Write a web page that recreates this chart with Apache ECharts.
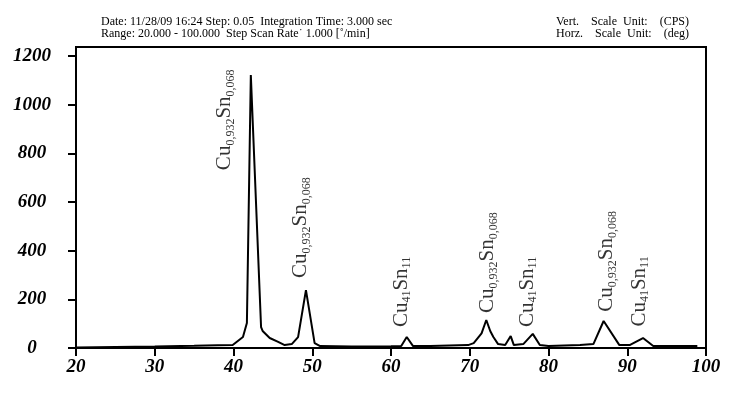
<!DOCTYPE html>
<html>
<head>
<meta charset="utf-8">
<title>XRD Cu-Sn</title>
<script src="https://cdn.jsdelivr.net/npm/echarts@6/dist/echarts.min.js"></script>
<style>
html, body { margin: 0; background: #fff; }
#chart { width: 735px; height: 393px; }
</style>
</head>
<body>
<div id="chart"></div>
<script>
// 2-theta (deg) and intensity (CPS)
var angle  = [20, 25, 30, 35, 38, 39.9, 41.2, 41.7, 42.2, 43.5, 43.7, 44.6, 45.6, 46.5, 47.4, 48.2, 49.2, 50.3, 51.0,
              55, 60, 61.3, 62.0, 62.8, 65, 69.8, 70.5, 71.5, 72.1, 72.6, 73.0, 73.6, 74.5, 75.2, 75.6, 76.8, 78.0, 78.9,
              80, 84.0, 85.7, 87.0, 89.0, 90.3, 92.0, 93.3, 96, 98.9];
var counts = [2, 4, 6, 9, 11, 12, 45, 103, 1122, 86, 70, 41, 26, 12, 16, 45, 238, 20, 8,
              6, 7, 8, 45, 8, 8, 12, 20, 60, 115, 70, 45, 16, 12, 49, 12, 16, 58, 12,
              8, 12, 16, 111, 12, 12, 41, 8, 8, 8];

var xTicks = [20, 30, 40, 50, 60, 70, 80, 90, 100];
var yTicks = [0, 200, 400, 600, 800, 1000, 1200];

// peak annotations: anchor (bottom of the vertical text) and phase name
var peakX    = [38.9, 48.5, 61.3, 72.25, 77.3, 87.4, 91.5];
var peakY    = [731, 288, 86, 144, 86, 149, 88];
var peakName = ['Cu0,932Sn0,068', 'Cu0,932Sn0,068', 'Cu41Sn11', 'Cu0,932Sn0,068', 'Cu41Sn11', 'Cu0,932Sn0,068', 'Cu41Sn11'];

var headerLeft  = ['Date: 11/28/09 16:24 Step: 0.05  Integration Time: 3.000 sec',
                   'Range: 20.000 - 100.000  Step Scan Rate\u02d9 1.000 [\u02da/min]'];
var headerRight = ['Vert.    Scale  Unit:    (CPS)',
                   'Horz.    Scale  Unit:    (deg)'];

var lineData = angle.map(function (a, i) { return [a, counts[i]]; });
var peakData = peakX.map(function (x, i) { return [x, peakY[i], peakName[i]]; });

function formula(name) {
    return name.replace(/([A-Z][a-z]?)([\d,]+)/g, '{m|$1}{s|$2}');
}

var axisFont = {
    color: '#000',
    fontFamily: 'Liberation Serif',
    fontStyle: 'italic',
    fontWeight: 'bold',
    fontSize: 19,
    formatter: function (v) { return String(v); }
};

var myChart = echarts.init(document.getElementById('chart'));
var option = {
    animation: false,
    backgroundColor: '#fff',
    grid: {
        left: 76, right: 29, top: 47, bottom: 45,
        show: true,
        borderColor: '#000',
        borderWidth: 2
    },
    graphic: [
        {
            type: 'text', left: 101, top: 16,
            style: { text: headerLeft.join('\n'), font: '12px "Liberation Serif"', lineHeight: 12, fill: '#000' }
        },
        {
            type: 'text', left: 556, top: 16,
            style: { text: headerRight.join('\n'), font: '12px "Liberation Serif"', lineHeight: 12, fill: '#000' }
        }
    ],
    xAxis: {
        type: 'value',
        min: 20,
        max: 100,
        interval: 10,
        splitLine: { show: false },
        axisLine: { lineStyle: { color: '#000', width: 2 } },
        axisTick: { length: 8, lineStyle: { color: '#000', width: 2 }, customValues: xTicks },
        axisLabel: Object.assign({ margin: 10, customValues: xTicks }, axisFont)
    },
    yAxis: {
        type: 'value',
        min: 0,
        max: 1237,
        splitLine: { show: false },
        axisLine: { show: true, lineStyle: { color: '#000', width: 2 } },
        axisTick: { show: true, length: 8, lineStyle: { color: '#000', width: 2 }, customValues: yTicks },
        axisLabel: Object.assign({ margin: 44, align: 'center', padding: [0, 0, 10, 0], customValues: yTicks }, axisFont)
    },
    series: [
        {
            type: 'line',
            data: lineData,
            showSymbol: false,
            smooth: false,
            lineStyle: { color: '#000', width: 2 },
            z: 3
        },
        {
            type: 'scatter',
            data: peakData,
            symbolSize: 0,
            silent: true,
            label: {
                show: true,
                position: 'inside',
                rotate: 90,
                align: 'left',
                verticalAlign: 'middle',
                formatter: function (p) { return formula(p.data[2]); },
                rich: {
                    m: { fontFamily: 'Liberation Serif', fontSize: 21, lineHeight: 24, color: '#000' },
                    s: { fontFamily: 'Liberation Serif', fontSize: 12, lineHeight: 12, color: '#000', verticalAlign: 'bottom' }
                }
            }
        }
    ]
};
myChart.setOption(option);
</script>
</body>
</html>
